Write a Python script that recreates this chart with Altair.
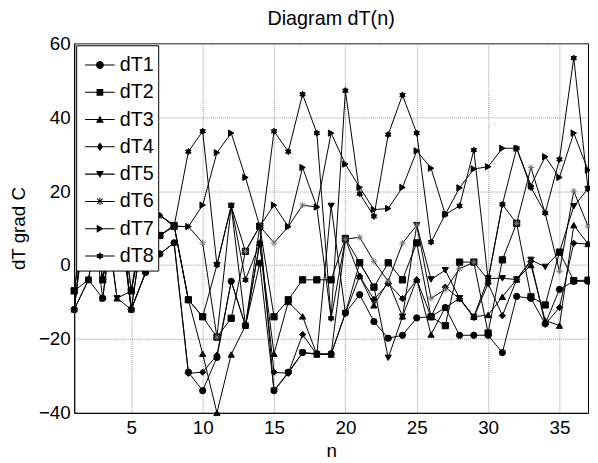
import altair as alt
import pandas as pd

FONT = "Liberation Sans"

n_values = list(range(1, 38))
names = ["dT1", "dT2", "dT3", "dT4", "dT5", "dT6", "dT7", "dT8"]

dT1 = [-12, -4, -9, 20, -12, -2, 3, 6, -29, -34, -25, -4.4, -16.4, 0.5, -34, -29, -23.7, -24, -24,
       -13, -8, -15.3, -19.8, -19, -14.3, -14, -11.5, -19, -19, -19, -23.7, -8.5, -9, -15.9, -6.6, -4.4, -4.4]
dT2 = [-7, 18, -4, 22, -7, 12, 8, 10.5, -9.4, -14, -19.5, -14.4, 3.7, 10.5, -14, -9.4, -4, -4, -4,
       7.2, 0.6, -6, 0.6, -4, 6, -14, -16.4, 0.8, 0.8, -18.4, 1.4, 11.3, -8.6, -10.8, 3.5, -4.2, -4.1]
dT3 = [-12, -4, 19, -9, -12, 15, 13.5, 10.8, -9.4, -24, -40, -24.2, -16.4, 6, -24, -10, -13.9, -24.2, -24.2,
       7, -3, -10.9, -4.4, -13.9, -3.9, -18.8, -11.5, -9, -14, -13.5, -8.6, -3.9, 0, -15, -16.4, 10.8, 5.7]
dT4 = [-12, 20, -4, 21, -12, -2, 3, 6, -29.3, -29, -24.4, -4.4, -16.4, 6, -29, -29.3, -18.8, -24.2, -24.2,
       -13, -3, -9.3, -5, -9.1, -4, -14, -6, -9.1, -14.2, -5, -13.7, -3.9, 1, -16, -11.5, 5.9, 5.7]
dT5 = [-7, -4, 22, -9, -7, 16, 8, 10.8, -9.4, -14, 0, 16, -16.4, 10.5, -34, -29.3, -23.7, -24.2, 16,
       -13, 0.6, -5.9, -25.1, -14, 10.8, -3.9, -1.4, -9, -14, -3.6, -3.6, -3.9, 1.4, -0.5, 3.5, 15.9, 20.6]
dT6 = [-12, 24, -4, 18, -12, 14, 13.5, 10.5, 10.4, 6, -19.5, 16, 3.7, 10.5, 6, 10.4, 16.2, 15.7, -14.4,
       7, 7.5, 1, -4.4, 5.9, 10.8, -9, -6.6, -1, 0.8, -4, 16.4, 11.3, 26.4, 14, -1.7, 20, 10.5]
dT7 = [-7, 21, -9, 25, -7, 17, 13.5, 10.5, 10.4, 16.2, 30.4, 35.7, 23.7, 10.5, 16.2, 10.4, 26.4, 15.7, 35.7,
       27.3, 21, 15, 15.3, 21, 30.9, 26.2, 13.7, 20.9, 26, 26.6, 31.6, 31.6, 21.5, 29.3, 23.7, 35.7, 25.7]
dT8 = [-12, 19, -4, 23, -12, -2, 8, 10.5, 30.7, 36.2, 0, 16, -4, 5.9, 36.2, 30.7, 46.2, 35.7, -14.4,
       47.2, 19.3, 13.2, 35.3, 46, 35.7, 6.2, 13.7, 16, 31.1, -4, 16.4, 31.6, 21, 14.1, 28.6, 56, 20.6]

series = [dT1, dT2, dT3, dT4, dT5, dT6, dT7, dT8]

x_ticks = [5, 10, 15, 20, 25, 30, 35]
y_ticks = [-40, -20, 0, 20, 40, 60]

rows = []
for name, vals in zip(names, series):
    for i, v in zip(n_values, vals):
        rows.append({"series": name, "n": i, "v": v})
df = pd.DataFrame(rows)

hexagram = ("M0,-1L0.289,-0.5L0.866,-0.5L0.577,0L0.866,0.5L0.289,0.5L0,1L-0.289,0.5"
            "L-0.866,0.5L-0.577,0L-0.866,-0.5L-0.289,-0.5Z")
asterisk = "M-1,0H1M0,-1V1M-0.7,-0.7L0.7,0.7M-0.7,0.7L0.7,-0.7"
asterisk_filled = ("M-1,-0.12H1V0.12H-1Z"
                   "M-0.12,-1H0.12V1H-0.12Z"
                   "M-0.785,-0.615L0.615,0.785L0.785,0.615L-0.615,-0.785Z"
                   "M-0.785,0.615L-0.615,0.785L0.785,-0.615L0.615,-0.785Z")

plot_shapes = ["circle", "square", "triangle-up", "diamond", "triangle-down",
               asterisk, "triangle-right", hexagram]

seg = "M-3.75,-0.13H3.75V0.13H-3.75Z"
legend_shapes = [
    seg + "M1,0A1,1,0,1,1,-1,0A1,1,0,1,1,1,0Z",
    seg + "M-0.85,-0.85H0.85V0.85H-0.85Z",
    seg + "M0,-1L1,0.8H-1Z",
    seg + "M0,-1.1L0.8,0L0,1.1L-0.8,0Z",
    seg + "M-1,-0.8H1L0,1Z",
    seg + asterisk_filled,
    seg + "M-0.8,-1L1,0L-0.8,1Z",
    seg + hexagram,
]
marker_strokes = ["black", "black", "black", "black", "black", "#777777", "black", "black"]

x_enc = alt.X("n:Q", scale=alt.Scale(domain=[1, 37], nice=False, zero=False),
              axis=alt.Axis(values=x_ticks, title="n", labelPadding=6, titlePadding=4))
y_enc = alt.Y("v:Q", scale=alt.Scale(domain=[-40, 60], nice=False, zero=False),
              axis=alt.Axis(values=y_ticks, title="dT grad C", labelPadding=4, titlePadding=10))

base = alt.Chart(df)

lines = base.mark_line(color="black", strokeWidth=1).encode(
    x=x_enc, y=y_enc, detail="series:N", order="n:Q"
)

points = base.mark_point(filled=True, fill="black", stroke="black", strokeWidth=1,
                         size=40, opacity=1).encode(
    x=x_enc, y=y_enc,
    shape=alt.Shape("series:N", scale=alt.Scale(domain=names, range=plot_shapes), legend=None),
    stroke=alt.Stroke("series:N", scale=alt.Scale(domain=names, range=marker_strokes), legend=None),
)

legend_layer = base.mark_point(filled=True, fill="black", size=64, opacity=1).encode(
    x=x_enc, y=y_enc,
    shape=alt.Shape("series:N", scale=alt.Scale(domain=names, range=legend_shapes),
                    legend=alt.Legend(
                        title=" ", titleFontSize=2, titlePadding=4,
                        orient="none", legendX=2, legendY=2,
                        fillColor="white", strokeColor="black", padding=4,
                        symbolSize=64, symbolOffset=10, labelOffset=10,
                        symbolFillColor="black", symbolOpacity=1,
                        labelFont=FONT, labelFontSize=20, labelColor="black",
                        rowPadding=7.6, cornerRadius=0,
                    )),
).transform_filter("false")

chart = alt.layer(lines, points, legend_layer).resolve_scale(
    shape="independent"
).properties(
    width=520, height=374,
    autosize=alt.AutoSizeParams(type="none"),
    padding={"left": 67, "top": 33, "right": 2, "bottom": 47},
    title=alt.TitleParams("Diagram dT(n)", font=FONT, fontSize=20, fontWeight="normal",
                          color="black", anchor="middle", offset=6),
).configure_view(
    stroke="black", strokeWidth=1
).configure_axis(
    labelFont=FONT, labelFontSize=19, labelColor="black",
    titleFont=FONT, titleFontSize=19, titleFontWeight="normal", titleColor="black",
    domainColor="black", ticks=False,
    grid=True, gridColor="#999999", gridDash=[1, 1], gridWidth=1, gridOpacity=1,
)

chart.save("out.html", embed_options={"renderer": "svg", "actions": False})
